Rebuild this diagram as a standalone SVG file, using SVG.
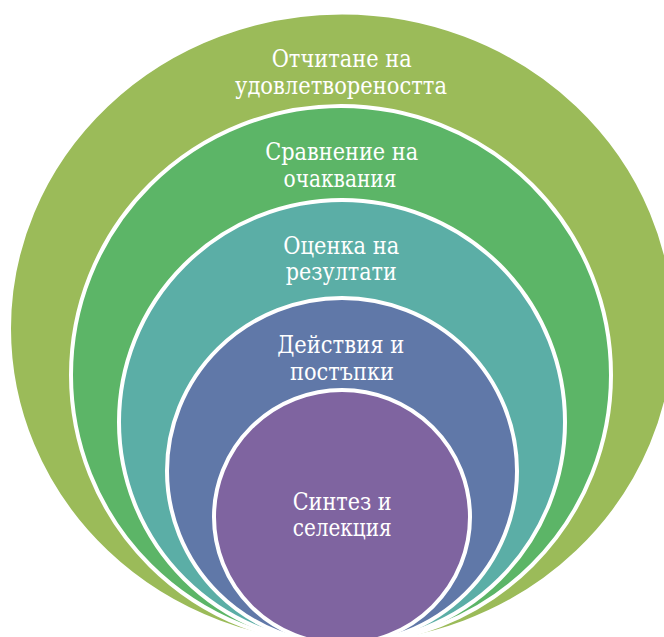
<svg xmlns="http://www.w3.org/2000/svg" width="664" height="637" viewBox="0 0 664 637">
<style>
.ring{stroke:#FFFFFF;stroke-width:4}
</style>
<rect width="664" height="637" fill="#FFFFFF"/>
<g font-family="DejaVu Serif, serif" font-size="24" fill="#FFFFFF" text-anchor="middle" lengthAdjust="spacingAndGlyphs">
<g id="n1">
<ellipse class="ring" cx="342" cy="328.5" rx="333" ry="316" fill="#9BBB59"/>
<text x="341.7" y="67" textLength="140" lengthAdjust="spacingAndGlyphs">Отчитане на</text>
<text x="341" y="93.5" textLength="212" lengthAdjust="spacingAndGlyphs">удовлетвореността</text>
</g>
<g id="n2">
<ellipse class="ring" cx="341" cy="375" rx="270" ry="269" fill="#5CB567"/>
<text x="341.7" y="160" textLength="153" lengthAdjust="spacingAndGlyphs">Сравнение на</text>
<text x="340" y="187" textLength="113" lengthAdjust="spacingAndGlyphs">очаквания</text>
</g>
<g id="n3">
<ellipse class="ring" cx="342" cy="422" rx="223" ry="222" fill="#5BAEA6"/>
<text x="341.3" y="253.5" textLength="116" lengthAdjust="spacingAndGlyphs">Оценка на</text>
<text x="341.3" y="280" textLength="111" lengthAdjust="spacingAndGlyphs">резултати</text>
</g>
<g id="n4">
<ellipse class="ring" cx="342" cy="471" rx="175" ry="173" fill="#6078A8"/>
<text x="340.7" y="353" textLength="127" lengthAdjust="spacingAndGlyphs">Действия и</text>
<text x="342" y="380" textLength="104" lengthAdjust="spacingAndGlyphs">постъпки</text>
</g>
<g id="n5">
<ellipse class="ring" cx="342" cy="517" rx="128" ry="127" fill="#7F64A0"/>
<text x="342.2" y="510" textLength="99" lengthAdjust="spacingAndGlyphs">Синтез и</text>
<text x="342.2" y="536" textLength="99" lengthAdjust="spacingAndGlyphs">селекция</text>
</g>
</g>
</svg>
